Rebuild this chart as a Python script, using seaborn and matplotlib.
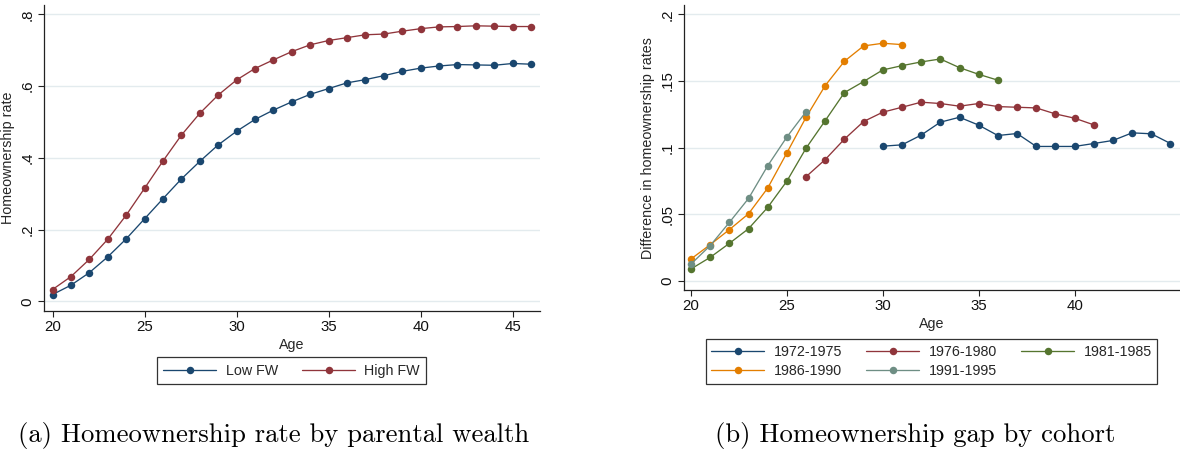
import matplotlib
matplotlib.use("Agg")
import matplotlib.pyplot as plt
import seaborn as sns
import pandas as pd

# ---------------- data ----------------
ages_a = list(range(20, 47))
low_fw = [0.019, 0.045, 0.080, 0.124, 0.174, 0.230, 0.286, 0.341, 0.390, 0.436,
          0.474, 0.507, 0.533, 0.556, 0.577, 0.593, 0.609, 0.618, 0.629, 0.641,
          0.650, 0.656, 0.660, 0.659, 0.658, 0.663, 0.661]
high_fw = [0.033, 0.069, 0.117, 0.173, 0.240, 0.315, 0.391, 0.463, 0.524, 0.575,
           0.617, 0.649, 0.673, 0.696, 0.715, 0.727, 0.735, 0.743, 0.745, 0.753,
           0.760, 0.765, 0.766, 0.768, 0.767, 0.766, 0.766]
series_a_labels = ["Low FW", "High FW"]

ages_1972 = list(range(30, 46))
gap_1972 = [0.1011, 0.1021, 0.1094, 0.1191, 0.1228, 0.1169, 0.1091, 0.1106,
            0.1009, 0.1009, 0.1009, 0.1031, 0.1054, 0.1111, 0.1104, 0.1031]
ages_1976 = list(range(26, 42))
gap_1976 = [0.0782, 0.0911, 0.1064, 0.1196, 0.1266, 0.1303, 0.1341, 0.1331,
            0.1311, 0.1331, 0.1308, 0.1303, 0.1298, 0.1253, 0.1221, 0.1171]
ages_1981 = list(range(20, 37))
gap_1981 = [0.0090, 0.0177, 0.0282, 0.0392, 0.0552, 0.0749, 0.0996, 0.1203,
            0.1413, 0.1496, 0.1583, 0.1615, 0.1643, 0.1665, 0.1600, 0.1550, 0.1506]
ages_1986 = list(range(20, 32))
gap_1986 = [0.0165, 0.0272, 0.0385, 0.0504, 0.0697, 0.0961, 0.1228, 0.1466,
            0.1648, 0.1763, 0.1783, 0.1773]
ages_1991 = list(range(20, 27))
gap_1991 = [0.0127, 0.0265, 0.0439, 0.0619, 0.0864, 0.1080, 0.1270]
cohort_labels = ["1972-1975", "1976-1980", "1981-1985", "1986-1990", "1991-1995"]

xticks_a = [20, 25, 30, 35, 40, 45]
yticks_a = [0, 0.2, 0.4, 0.6, 0.8]
yticklabels_a = ["0", ".2", ".4", ".6", ".8"]
xticks_b = [20, 25, 30, 35, 40]
yticks_b = [0, 0.05, 0.10, 0.15, 0.20]
yticklabels_b = ["0", ".05", ".1", ".15", ".2"]

caption_a = "(a) Homeownership rate by parental wealth"
caption_b = "(b) Homeownership gap by cohort"

# ---------------- style ----------------
sns.set_theme(style="white")
plt.rcParams["font.family"] = ["Liberation Sans", "DejaVu Sans"]

NAVY = "#1a476f"
MAROON = "#90353b"
GREEN = "#55752f"
ORANGE = "#e37e00"
TEAL = "#6e8e84"
GRID = "#e3ebee"
FS = 10.3
TFS = 10.8

fig = plt.figure(figsize=(11.8, 4.5), dpi=100)
W, H = 1180.0, 450.0
ax1 = fig.add_axes([43.5 / W, 1 - 310.7 / H, (540 - 43.5) / W, (310.7 - 5) / H])
ax2 = fig.add_axes([683.7 / W, 1 - 290.3 / H, (1179.5 - 683.7) / W, (290.3 - 5) / H])

line_kw = dict(marker="o", markersize=5.4, markeredgewidth=0, linewidth=0.95)

def style_axis(ax, xticks, yticks, yticklabels, xlim, ylim, ylabel):
    ax.set_xlim(*xlim)
    ax.set_ylim(*ylim)
    ax.set_xticks(xticks)
    ax.set_xticklabels([str(t) for t in xticks], fontsize=TFS)
    ax.set_yticks(yticks)
    ax.set_yticklabels(yticklabels, rotation=90, va="center", fontsize=TFS)
    for y in yticks:
        ax.axhline(y, color=GRID, linewidth=1.0, zorder=0)
    ax.grid(False)
    for s in ["top", "right"]:
        ax.spines[s].set_visible(False)
    for s in ["left", "bottom"]:
        ax.spines[s].set_color("#222222")
        ax.spines[s].set_linewidth(0.9)
    ax.tick_params(axis="both", which="major", direction="out", length=4,
                   width=0.8, color="#222222", pad=2.5, labelcolor="#111111",
                   bottom=True, left=True)
    ax.set_xlabel("Age", fontsize=FS, labelpad=3)
    ax.set_ylabel(ylabel, fontsize=FS, labelpad=4)
    ax.set_facecolor("white")

# ---------------- panel (a) ----------------
for vals, lab, col in [(low_fw, series_a_labels[0], NAVY),
                       (high_fw, series_a_labels[1], MAROON)]:
    df = pd.DataFrame({"Age": ages_a, "val": vals})
    sns.lineplot(data=df, x="Age", y="val", ax=ax1, color=col, label=lab, **line_kw)

style_axis(ax1, xticks_a, yticks_a, yticklabels_a, (19.51, 46.49), (-0.026, 0.826),
           "Homeownership rate")
h1, l1 = ax1.get_legend_handles_labels()
ax1.get_legend().remove()
leg1 = fig.legend(h1, l1, loc="upper center", bbox_to_anchor=(291.7 / W, 1 - 357.3 / H),
                  ncol=2, fontsize=FS, frameon=True, fancybox=False, edgecolor="black",
                  handlelength=3.7, handletextpad=0.65, columnspacing=1.7,
                  borderpad=0.45, borderaxespad=0)
leg1.get_frame().set_linewidth(0.9)

# ---------------- panel (b) ----------------
cohorts = [(ages_1972, gap_1972, NAVY), (ages_1976, gap_1976, MAROON),
           (ages_1981, gap_1981, GREEN), (ages_1986, gap_1986, ORANGE),
           (ages_1991, gap_1991, TEAL)]
for (ages, vals, col), lab in zip(cohorts, cohort_labels):
    df = pd.DataFrame({"Age": ages, "val": vals})
    sns.lineplot(data=df, x="Age", y="val", ax=ax2, color=col, label=lab, **line_kw)

style_axis(ax2, xticks_b, yticks_b, yticklabels_b, (19.62, 45.47), (-0.007, 0.207),
           "Difference in homeownership rates")
h2, l2 = ax2.get_legend_handles_labels()
ax2.get_legend().remove()
# row-wise ordering (matplotlib fills legends column by column)
order = [0, 3, 1, 4, 2]
leg2 = fig.legend([h2[i] for i in order], [l2[i] for i in order], loc="upper center",
                  bbox_to_anchor=(931.5 / W, 1 - 339 / H),
                  ncol=3, fontsize=FS, frameon=True, fancybox=False, edgecolor="black",
                  handlelength=3.7, handletextpad=0.65, columnspacing=1.7,
                  labelspacing=0.4, borderpad=0.4, borderaxespad=0)
leg2.get_frame().set_linewidth(0.9)

# ---------------- captions ----------------
fig.text(274 / W, 1 - 441.7 / H, caption_a, ha="center", va="baseline",
         fontsize=19.2, family=["cmr10", "DejaVu Serif"], color="black")
fig.text(915 / W, 1 - 441.7 / H, caption_b, ha="center", va="baseline",
         fontsize=19.2, family=["cmr10", "DejaVu Serif"], color="black")

fig.savefig("out.png", dpi=100, facecolor="white")
